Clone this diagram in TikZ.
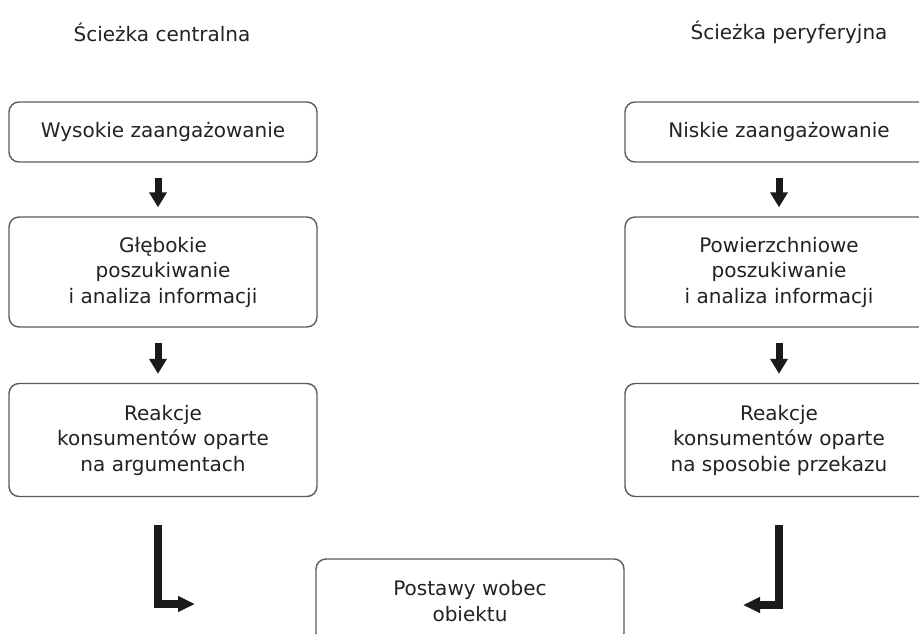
\documentclass[tikz,border=0pt]{standalone}
\usepackage{fontspec}
\setmainfont{DejaVu Sans}
\usetikzlibrary{arrows.meta}
\definecolor{tekst}{HTML}{222222}
\definecolor{ramka}{HTML}{5C5C5C}
\definecolor{strzalka}{HTML}{1A1A1A}
\begin{document}
\begin{tikzpicture}[x=1pt,y=-1pt,
  box/.style={draw=ramka,line width=1.4pt,rounded corners=10pt,minimum width=308pt,
    inner sep=0pt,align=center,text=tekst,font=\fontsize{20}{25.5}\selectfont},
  title/.style={text=tekst,font=\fontsize{20}{25.5}\selectfont},
  down/.style={draw=strzalka,line width=7pt,-{Triangle[length=15pt,width=17pt]},
    shorten <=15pt,shorten >=9pt},
  turn/.style={draw=strzalka,line width=8pt,-{Triangle[length=17pt,width=15pt]},
    shorten <=28pt}]
	\useasboundingbox (0,0) rectangle (919,633);
	\node[title] (tc) at (162,32) {Ścieżka centralna};
	\node[title] (tp) at (789,32) {Ścieżka peryferyjna};
	% sciezka centralna
	\node[box,minimum height=60pt] (c1) at (163,132) {Wysokie zaangażowanie};
	\node[box,minimum height=110pt] (c2) at (163,272) {Głębokie\\poszukiwanie\\i analiza informacji};
	\node[box,minimum height=113pt] (c3) at (163,440) {Reakcje\\konsumentów oparte\\na argumentach};
	% sciezka peryferyjna
	\node[box,minimum height=60pt] (p1) at (779,132) {Niskie zaangażowanie};
	\node[box,minimum height=110pt] (p2) at (779,272) {Powierzchniowe\\poszukiwanie\\i analiza informacji};
	\node[box,minimum height=113pt] (p3) at (779,440) {Reakcje\\konsumentów oparte\\na sposobie przekazu};
	\node[box,minimum height=84pt] (post) at (470,601) {Postawy wobec\\obiektu};
	\draw[down] ([xshift=-5pt]c1.south) -- ([xshift=-5pt]c2.north);
	\draw[down] ([xshift=-5pt]c2.south) -- ([xshift=-5pt]c3.north);
	\draw[down] (p1.south) -- (p2.north);
	\draw[down] (p2.south) -- (p3.north);
	\coordinate (ck) at (195,604);
	\coordinate (pk) at (743,605);
	\draw[turn] ([xshift=-5pt]c3.south) |- (ck);
	\draw[turn] (p3.south) |- (pk);
\end{tikzpicture}
\end{document}
